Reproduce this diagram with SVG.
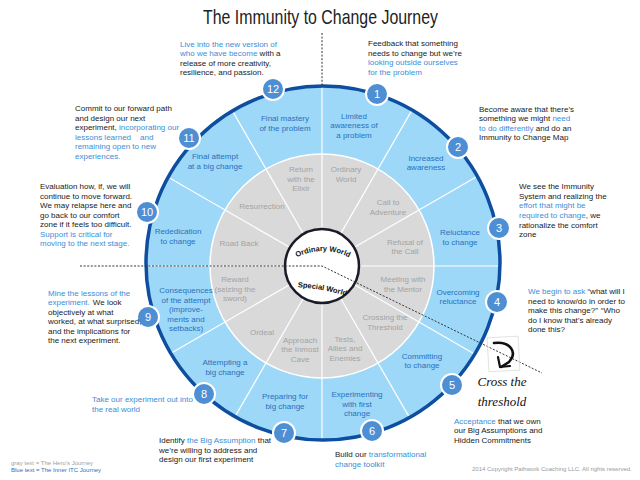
<svg xmlns="http://www.w3.org/2000/svg" width="640" height="480" viewBox="0 0 640 480">
<defs>
<style>
text{font-family:'Liberation Sans Narrow','Liberation Sans',Arial,sans-serif;}
.t{font-size:8px;fill:#1a1a1a;}
.b{fill:#3b8ed8;}
.k{fill:#1a1a1a;}
.rl{font-size:8px;fill:#2a70bd;text-anchor:middle;}
.gl{font-size:8px;fill:#a3a3a3;text-anchor:middle;}
.badge circle{fill:#4e8fd4;stroke:#ffffff;stroke-width:2;}
.badge text{font-size:11px;fill:#ffffff;text-anchor:middle;font-family:'Liberation Sans',Arial,sans-serif;}
.div{stroke:#ffffff;stroke-width:1.2;}
.dash{stroke:#333333;stroke-width:1;stroke-dasharray:2,1.6;fill:none;}
.cw{font-size:7.5px;font-weight:bold;fill:#111111;font-family:'Liberation Sans',Arial,sans-serif;}
</style>
<path id="arcTop" d="M 266,308 A 57,57 0 0 1 380,308"/>
<path id="arcBot" d="M 294,287 Q 322,288 350,297"/>
</defs>
<rect width="640" height="480" fill="#ffffff"/>
<text x="203" y="24" font-size="21" fill="#222222" textLength="235" lengthAdjust="spacingAndGlyphs" style="font-family:'Liberation Sans Narrow','Liberation Sans',Arial,sans-serif">The Immunity to Change Journey</text>

<g id="wheel">
<circle cx="323" cy="263" r="177" fill="#9dd8f8"/>
<circle cx="322" cy="266" r="112" fill="#d9d9d9" stroke="#ffffff" stroke-width="1.5"/>
</g>

<g id="connectors">
<line class="div" x1="322" y1="266" x2="504" y2="266"/>
<line class="div" x1="322" y1="266" x2="479.6" y2="175"/>
<line class="div" x1="322" y1="266" x2="413" y2="108.4"/>
<line class="div" x1="322" y1="266" x2="322" y2="84"/>
<line class="div" x1="322" y1="266" x2="231" y2="108.4"/>
<line class="div" x1="322" y1="266" x2="164.4" y2="175"/>
<line class="div" x1="322" y1="266" x2="140" y2="266"/>
<line class="div" x1="322" y1="266" x2="164.4" y2="357"/>
<line class="div" x1="322" y1="266" x2="231" y2="423.6"/>
<line class="div" x1="322" y1="266" x2="322" y2="448"/>
<line class="div" x1="322" y1="266" x2="413" y2="423.6"/>
<line class="div" x1="322" y1="266" x2="479.6" y2="357"/>
<circle cx="323" cy="263" r="177" fill="none" stroke="#0d4ea0" stroke-width="3.5"/>
<line class="dash" x1="322" y1="33" x2="322" y2="85"/>
</g>

<g id="center">
<circle cx="322" cy="266" r="37" fill="#ffffff" stroke="#1b1b28" stroke-width="2.5"/>
<text class="cw"><textPath href="#arcTop" startOffset="50%" text-anchor="middle">Ordinary World</textPath></text>
<text class="cw"><textPath href="#arcBot" startOffset="50%" text-anchor="middle">Special World</textPath></text>
</g>

<g id="dashes">
<polyline class="dash" points="80,266 322,266 542,373"/>
</g>

<g id="hero-stages">
<text class="gl" x="346"><tspan x="346" y="172">Ordinary</tspan><tspan x="346" y="181.5">World</tspan></text>
<text class="gl"><tspan x="388" y="204.5">Call to</tspan><tspan x="388" y="214.5">Adventure</tspan></text>
<text class="gl"><tspan x="405" y="244.5">Refusal of</tspan><tspan x="405" y="254">the Call</tspan></text>
<text class="gl"><tspan x="403" y="282">Meeting with</tspan><tspan x="403" y="292">the Mentor</tspan></text>
<text class="gl"><tspan x="385" y="319.5">Crossing the</tspan><tspan x="385" y="329.5">Threshold</tspan></text>
<text class="gl"><tspan x="345" y="341.5">Tests,</tspan><tspan x="345" y="351">Allies and</tspan><tspan x="345" y="360.5">Enemies</tspan></text>
<text class="gl"><tspan x="300" y="342.5">Approach</tspan><tspan x="300" y="352">the Inmost</tspan><tspan x="300" y="361.5">Cave</tspan></text>
<text class="gl" x="262" y="335">Ordeal</text>
<text class="gl"><tspan x="235" y="282">Reward</tspan><tspan x="235" y="291.5">(seizing the</tspan><tspan x="235" y="301">sword)</tspan></text>
<text class="gl" x="239" y="246">Road Back</text>
<text class="gl" x="262" y="209">Resurrection</text>
<text class="gl"><tspan x="301" y="172">Return</tspan><tspan x="301" y="181.5">with the</tspan><tspan x="301" y="191">Elixir</tspan></text>
</g>

<g id="stage-1"><text class="rl"><tspan x="354" y="118.5">Limited</tspan><tspan x="354" y="128">awareness of</tspan><tspan x="354" y="137.5">a problem</tspan></text></g>
<g id="stage-2"><text class="rl"><tspan x="426" y="161">Increased</tspan><tspan x="426" y="170">awareness</tspan></text></g>
<g id="stage-3"><text class="rl"><tspan x="460" y="234.5">Reluctance</tspan><tspan x="460" y="244.5">to change</tspan></text></g>
<g id="stage-4"><text class="rl"><tspan x="458" y="294.5">Overcoming</tspan><tspan x="458" y="304">reluctance</tspan></text></g>
<g id="stage-5"><text class="rl"><tspan x="422" y="358.5">Committing</tspan><tspan x="422" y="368">to change</tspan></text></g>
<g id="stage-6"><text class="rl"><tspan x="357" y="397">Experimenting</tspan><tspan x="357" y="406.5">with first</tspan><tspan x="357" y="416">change</tspan></text></g>
<g id="stage-7"><text class="rl"><tspan x="285" y="399">Preparing for</tspan><tspan x="285" y="409">big change</tspan></text></g>
<g id="stage-8"><text class="rl"><tspan x="225" y="365">Attempting a</tspan><tspan x="225" y="374.5">big change</tspan></text></g>
<g id="stage-9"><text class="rl"><tspan x="186" y="293">Consequences</tspan><tspan x="186" y="302.5">of the attempt</tspan><tspan x="186" y="312">(improve-</tspan><tspan x="186" y="321.5">ments and</tspan><tspan x="186" y="331">setbacks)</tspan></text></g>
<g id="stage-10"><text class="rl"><tspan x="178" y="233.5">Rededication</tspan><tspan x="178" y="243.5">to change</tspan></text></g>
<g id="stage-11"><text class="rl"><tspan x="215" y="159">Final attempt</tspan><tspan x="215" y="169">at a big change</tspan></text></g>
<g id="stage-12"><text class="rl"><tspan x="285" y="121">Final mastery</tspan><tspan x="285" y="130.5">of the problem</tspan></text></g>

<g id="badge-1" class="badge"><circle cx="377" cy="94" r="11"/><text x="377" y="98">1</text></g>
<g id="badge-2" class="badge"><circle cx="458" cy="147" r="11"/><text x="458" y="151">2</text></g>
<g id="badge-3" class="badge"><circle cx="499" cy="228" r="11"/><text x="499" y="232">3</text></g>
<g id="badge-4" class="badge"><circle cx="497" cy="302" r="11"/><text x="497" y="306">4</text></g>
<g id="badge-5" class="badge"><circle cx="452" cy="385" r="11"/><text x="452" y="389">5</text></g>
<g id="badge-6" class="badge"><circle cx="372" cy="431" r="11"/><text x="372" y="435">6</text></g>
<g id="badge-7" class="badge"><circle cx="284" cy="433" r="11"/><text x="284" y="437">7</text></g>
<g id="badge-8" class="badge"><circle cx="204" cy="394" r="11"/><text x="204" y="398">8</text></g>
<g id="badge-9" class="badge"><circle cx="148" cy="317" r="11"/><text x="148" y="321">9</text></g>
<g id="badge-10" class="badge"><circle cx="147" cy="212" r="11"/><text x="147" y="216">10</text></g>
<g id="badge-11" class="badge"><circle cx="189" cy="138" r="11"/><text x="189" y="142">11</text></g>
<g id="badge-12" class="badge"><circle cx="273" cy="89" r="11"/><text x="273" y="93">12</text></g>

<g id="note-12"><text class="t"><tspan x="180" y="46.5" class="b">Live into the new version of</tspan><tspan x="180" y="56" class="b">who we  have become</tspan><tspan class="k"> with a</tspan><tspan x="180" y="65.5">release of more creativity,</tspan><tspan x="180" y="75">resilience, and passion.</tspan></text></g>
<g id="note-1"><text class="t"><tspan x="368" y="46">Feedback that something</tspan><tspan x="368" y="55.5">needs to change but we’re</tspan><tspan x="368" y="65" class="b">looking outside ourselves</tspan><tspan x="368" y="74.5" class="b">for the problem</tspan></text></g>
<g id="note-11"><text class="t"><tspan x="75" y="111">Commit to our forward path</tspan><tspan x="75" y="120.5">and design our next</tspan><tspan x="75" y="130">experiment, </tspan><tspan class="b">incorporating our</tspan><tspan x="75" y="139.5" class="b">lessons learned</tspan><tspan x="140" y="139.5" class="b">and</tspan><tspan x="75" y="149" class="b">remaining open to new</tspan><tspan x="75" y="158.5" class="b">experiences.</tspan></text></g>
<g id="note-2"><text class="t"><tspan x="479" y="111.5">Become aware that there’s</tspan><tspan x="479" y="121">something we might </tspan><tspan class="b">need</tspan><tspan x="479" y="130.5" class="b">to do differently</tspan><tspan class="k"> and do an</tspan><tspan x="479" y="140">Immunity to Change Map</tspan></text></g>
<g id="note-10"><text class="t"><tspan x="40" y="189">Evaluation how, if, we will</tspan><tspan x="40" y="198.5">continue to move forward.</tspan><tspan x="40" y="208">We may relapse here and</tspan><tspan x="40" y="217.5">go back to our comfort</tspan><tspan x="40" y="227">zone if it feels too difficult.</tspan><tspan x="40" y="236.5" class="b">Support is critical for</tspan><tspan x="40" y="246" class="b">moving to the next stage.</tspan></text></g>
<g id="note-3"><text class="t"><tspan x="519" y="189">We see the Immunity</tspan><tspan x="519" y="198.5">System and realizing the</tspan><tspan x="519" y="208" class="b">effort that might be</tspan><tspan x="519" y="218" class="b">required to change</tspan><tspan class="k">, we</tspan><tspan x="519" y="227.5">rationalize the comfort</tspan><tspan x="519" y="237">zone</tspan></text></g>
<g id="note-9"><text class="t"><tspan x="48" y="295.5" class="b">Mine the lessons of the</tspan><tspan x="48" y="305" class="b">experiment.</tspan><tspan class="k" dx="3">We look</tspan><tspan x="48" y="314.5">objectively at what</tspan><tspan x="48" y="324">worked, at what surprised,</tspan><tspan x="48" y="333.5">and the implications for</tspan><tspan x="48" y="343">the next experiment.</tspan></text></g>
<g id="note-4"><text class="t"><tspan x="528" y="294" class="b">We begin to ask</tspan><tspan class="k"> “what will I</tspan><tspan x="528" y="303.5">need to know/do in order to</tspan><tspan x="528" y="313">make this change?”</tspan><tspan dx="3">“Who</tspan><tspan x="528" y="322.5">do I know that’s already</tspan><tspan x="528" y="332">done this?</tspan></text></g>
<g id="note-8"><text class="t"><tspan x="92" y="402" class="b">Take our experiment out into</tspan><tspan x="92" y="411.5" class="b">the real world</tspan></text></g>
<g id="note-7"><text class="t"><tspan x="159" y="443">Identify </tspan><tspan class="b">the Big Assumption</tspan><tspan class="k"> that</tspan><tspan x="159" y="452.5">we’re willing to address and</tspan><tspan x="159" y="462">design our first experiment</tspan></text></g>
<g id="note-6"><text class="t"><tspan x="335" y="457">Build our </tspan><tspan class="b">transformational</tspan><tspan x="335" y="466.5" class="b">change toolkit</tspan></text></g>
<g id="note-5"><text class="t"><tspan x="454" y="423.5" class="b">Acceptance</tspan><tspan class="k"> that we own</tspan><tspan x="454" y="433">our Big Assumptions and</tspan><tspan x="454" y="442.5">Hidden Commitments</tspan></text></g>

<g id="threshold">
<rect x="488" y="337" width="31" height="34" fill="none" stroke="#dcdcdc" stroke-width="0.8" transform="rotate(-3 503 354)"/>
<path d="M 494,343 C 510,341 518,352 509,362 L 501,367" fill="none" stroke="#111111" stroke-width="2.6" stroke-linecap="round"/>
<path d="M 498,357 L 500,367 L 510,366" fill="none" stroke="#111111" stroke-width="2.2" stroke-linecap="round" stroke-linejoin="round"/>
<text x="502" y="386" font-size="13" font-style="italic" fill="#111111" text-anchor="middle" style="font-family:'Liberation Serif',serif">Cross the</text>
<text x="502" y="406" font-size="13" font-style="italic" fill="#111111" text-anchor="middle" style="font-family:'Liberation Serif',serif">threshold</text>
</g>

<g id="legend">
<text x="11" y="464.5" font-size="6" fill="#a0a0a0">gray text = The Hero’s Journey</text>
<text x="11" y="471.5" font-size="6" fill="#2e6ec0">Blue text = The Inner ITC Journey</text>
<text x="472" y="470.5" font-size="6" fill="#9a9a9a">2014 Copyright Pathwork Coaching LLC.  All rights reserved.</text>
</g>
</svg>
